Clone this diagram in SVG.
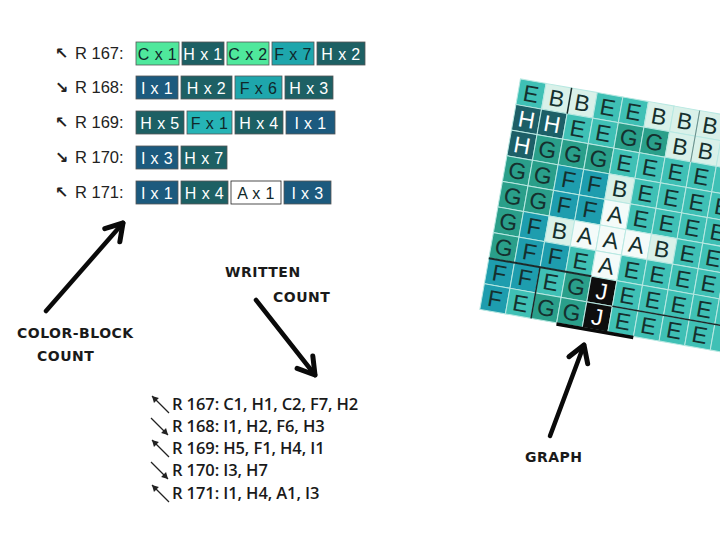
<svg xmlns="http://www.w3.org/2000/svg" width="720" height="540" viewBox="0 0 720 540">
<defs>
<style>
.lbl{font-family:"Liberation Sans",Arial,sans-serif;font-size:16.5px;fill:#222}
.arr{font-family:"DejaVu Sans",sans-serif;font-size:16px;fill:#222;font-weight:bold}
.bx{stroke:#555;stroke-width:0.8}
.bt{font-family:"Liberation Sans",Arial,sans-serif;font-size:16px;text-anchor:middle;letter-spacing:0.4px}
.C{fill:#4fe89c}.H{fill:#1d6064}.F{fill:#1ea6ac}.I{fill:#1c5a7e}.A{fill:#ffffff}
.w{fill:#ffffff}.d{fill:#10282a}
.comic{font-family:"DejaVu Sans",sans-serif;font-weight:bold;font-size:14px;fill:#1a1a1a;letter-spacing:0.5px}
.list{font-family:"Open Sans","Noto Sans",sans-serif;font-size:16.5px;fill:#1a1a1a;font-weight:600;letter-spacing:-0.1px}
.big{stroke:#0a0a0a;stroke-width:4.5;stroke-linecap:round;fill:none}
.sm{stroke:#222;stroke-width:1.2;fill:none}
.cE{fill:#3fc0b5}.cB{fill:#d9f1e9}.cH{fill:#1d5f67}.cG{fill:#2a9f8a}.cF{fill:#1e9dae}.cA{fill:#f4fbf9}.cJ{fill:#0e0e0e}
.cell{stroke:#b8e8e2;stroke-width:1}
.gt{font-family:"Liberation Sans",Arial,sans-serif;font-size:23px;text-anchor:middle;fill:#15302e}
.gw{fill:#ffffff}
</style>
<marker id="bigHead" markerUnits="userSpaceOnUse" markerWidth="30" markerHeight="30" viewBox="-16 -12 20 24" refX="0" refY="0" orient="auto">
<path d="M-13,-8 L0,0 L-13,8" fill="none" stroke="#0a0a0a" stroke-width="4" stroke-linecap="round" stroke-linejoin="round"/>
</marker>
<marker id="smHead" markerUnits="userSpaceOnUse" markerWidth="10" markerHeight="10" viewBox="-6 -4 8 8" refX="0" refY="0" orient="auto">
<path d="M-5,-2.8 L0,0 L-5,2.8 Z" fill="#222"/>
</marker>
</defs>
<rect width="720" height="540" fill="#ffffff"/>

<g id="block-rows">
<g id="row-167">
<text class="arr" x="55" y="59">↖</text><text class="lbl" x="75" y="59">R 167:</text>
<rect class="bx C" x="136" y="42" width="43" height="23"/><text class="bt d" x="157.5" y="59.5">C x 1</text>
<rect class="bx H" x="182" y="42" width="42" height="23"/><text class="bt w" x="203" y="59.5">H x 1</text>
<rect class="bx C" x="227" y="42" width="42" height="23"/><text class="bt d" x="248" y="59.5">C x 2</text>
<rect class="bx F" x="272" y="42" width="42" height="23"/><text class="bt d" x="293" y="59.5">F x 7</text>
<rect class="bx H" x="317" y="42" width="48" height="23"/><text class="bt w" x="341" y="59.5">H x 2</text>
</g>
<g id="row-168">
<text class="arr" x="55" y="93">↘</text><text class="lbl" x="75" y="93">R 168:</text>
<rect class="bx I" x="136" y="76" width="42" height="23"/><text class="bt w" x="157" y="93.5">I x 1</text>
<rect class="bx H" x="181" y="76" width="51" height="23"/><text class="bt w" x="206.5" y="93.5">H x 2</text>
<rect class="bx F" x="235" y="76" width="47" height="23"/><text class="bt d" x="258.5" y="93.5">F x 6</text>
<rect class="bx H" x="285" y="76" width="48" height="23"/><text class="bt w" x="309" y="93.5">H x 3</text>
</g>
<g id="row-169">
<text class="arr" x="55" y="128">↖</text><text class="lbl" x="75" y="128">R 169:</text>
<rect class="bx H" x="136" y="111" width="48" height="23"/><text class="bt w" x="160" y="128.5">H x 5</text>
<rect class="bx F" x="187" y="111" width="45" height="23" style="fill:#26b4b6"/><text class="bt d" x="209.5" y="128.5">F x 1</text>
<rect class="bx H" x="235" y="111" width="48" height="23"/><text class="bt w" x="259" y="128.5">H x 4</text>
<rect class="bx I" x="286" y="111" width="49" height="23"/><text class="bt w" x="310.5" y="128.5">I x 1</text>
</g>
<g id="row-170">
<text class="arr" x="55" y="163">↘</text><text class="lbl" x="75" y="163">R 170:</text>
<rect class="bx I" x="136" y="146" width="42" height="23"/><text class="bt w" x="157" y="163.5">I x 3</text>
<rect class="bx H" x="181" y="146" width="46" height="23"/><text class="bt w" x="204" y="163.5">H x 7</text>
</g>
<g id="row-171">
<text class="arr" x="55" y="198">↖</text><text class="lbl" x="75" y="198">R 171:</text>
<rect class="bx I" x="136" y="181" width="42" height="23"/><text class="bt w" x="157" y="198.5">I x 1</text>
<rect class="bx H" x="181" y="181" width="47" height="23"/><text class="bt w" x="204.5" y="198.5">H x 4</text>
<rect class="bx A" x="231" y="181" width="50" height="23" style="stroke:#222"/><text class="bt d" x="256" y="198.5">A x 1</text>
<rect class="bx I" x="284" y="181" width="47" height="23"/><text class="bt w" x="307.5" y="198.5">I x 3</text>
</g>
</g>

<g id="label-color-block">
<text class="comic" x="17" y="338">COLOR-BLOCK</text>
<text class="comic" x="37" y="361">COUNT</text>
</g>
<g id="label-written">
<text class="comic" x="225" y="277">WRITTEN</text>
<text class="comic" x="273" y="302">COUNT</text>
</g>
<g id="label-graph">
<text class="comic" x="525" y="462">GRAPH</text>
</g>

<g id="connectors">
<line class="big" x1="46" y1="311" x2="123" y2="223" marker-end="url(#bigHead)"/>
<line class="big" x1="256" y1="300" x2="315" y2="375" marker-end="url(#bigHead)"/>
<line class="big" x1="550" y1="436" x2="584" y2="345" marker-end="url(#bigHead)"/>
</g>

<g id="written-list">
<line class="sm" x1="169" y1="413" x2="152" y2="396" marker-end="url(#smHead)"/>
<text class="list" x="172" y="410">R 167: C1, H1, C2, F7, H2</text>
<line class="sm" x1="151" y1="418" x2="168" y2="435" marker-end="url(#smHead)"/>
<text class="list" x="172" y="432">R 168: I1, H2, F6, H3</text>
<line class="sm" x1="169" y1="457" x2="152" y2="440" marker-end="url(#smHead)"/>
<text class="list" x="172" y="454">R 169: H5, F1, H4, I1</text>
<line class="sm" x1="151" y1="462" x2="168" y2="479" marker-end="url(#smHead)"/>
<text class="list" x="172" y="476">R 170: I3, H7</text>
<line class="sm" x1="169" y1="502" x2="152" y2="485" marker-end="url(#smHead)"/>
<text class="list" x="172" y="499">R 171: I1, H4, A1, I3</text>
</g>

<g id="graph" transform="translate(531,94) rotate(10)">
<g id="graph-cells">
<rect class="cell cE" x="-13" y="-13" width="26" height="26"/><rect class="cell cB" x="13" y="-13" width="26" height="26"/><rect class="cell cB" x="39" y="-13" width="26" height="26"/><rect class="cell cE" x="65" y="-13" width="26" height="26"/><rect class="cell cE" x="91" y="-13" width="26" height="26"/><rect class="cell cB" x="117" y="-13" width="26" height="26"/><rect class="cell cB" x="143" y="-13" width="26" height="26"/><rect class="cell cB" x="169" y="-13" width="26" height="26"/><rect class="cell cB" x="195" y="-13" width="26" height="26"/><rect class="cell cB" x="221" y="-13" width="26" height="26"/>
<rect class="cell cH" x="-13" y="13" width="26" height="26"/><rect class="cell cH" x="13" y="13" width="26" height="26"/><rect class="cell cE" x="39" y="13" width="26" height="26"/><rect class="cell cE" x="65" y="13" width="26" height="26"/><rect class="cell cG" x="91" y="13" width="26" height="26"/><rect class="cell cG" x="117" y="13" width="26" height="26"/><rect class="cell cB" x="143" y="13" width="26" height="26"/><rect class="cell cB" x="169" y="13" width="26" height="26"/><rect class="cell cB" x="195" y="13" width="26" height="26"/><rect class="cell cB" x="221" y="13" width="26" height="26"/>
<rect class="cell cH" x="-13" y="39" width="26" height="26"/><rect class="cell cG" x="13" y="39" width="26" height="26"/><rect class="cell cG" x="39" y="39" width="26" height="26"/><rect class="cell cG" x="65" y="39" width="26" height="26"/><rect class="cell cE" x="91" y="39" width="26" height="26"/><rect class="cell cE" x="117" y="39" width="26" height="26"/><rect class="cell cE" x="143" y="39" width="26" height="26"/><rect class="cell cE" x="169" y="39" width="26" height="26"/><rect class="cell cE" x="195" y="39" width="26" height="26"/><rect class="cell cE" x="221" y="39" width="26" height="26"/>
<rect class="cell cG" x="-13" y="65" width="26" height="26"/><rect class="cell cG" x="13" y="65" width="26" height="26"/><rect class="cell cF" x="39" y="65" width="26" height="26"/><rect class="cell cF" x="65" y="65" width="26" height="26"/><rect class="cell cB" x="91" y="65" width="26" height="26"/><rect class="cell cE" x="117" y="65" width="26" height="26"/><rect class="cell cE" x="143" y="65" width="26" height="26"/><rect class="cell cE" x="169" y="65" width="26" height="26"/><rect class="cell cE" x="195" y="65" width="26" height="26"/><rect class="cell cE" x="221" y="65" width="26" height="26"/>
<rect class="cell cG" x="-13" y="91" width="26" height="26"/><rect class="cell cG" x="13" y="91" width="26" height="26"/><rect class="cell cF" x="39" y="91" width="26" height="26"/><rect class="cell cF" x="65" y="91" width="26" height="26"/><rect class="cell cA" x="91" y="91" width="26" height="26"/><rect class="cell cE" x="117" y="91" width="26" height="26"/><rect class="cell cE" x="143" y="91" width="26" height="26"/><rect class="cell cE" x="169" y="91" width="26" height="26"/><rect class="cell cE" x="195" y="91" width="26" height="26"/><rect class="cell cE" x="221" y="91" width="26" height="26"/>
<rect class="cell cG" x="-13" y="117" width="26" height="26"/><rect class="cell cF" x="13" y="117" width="26" height="26"/><rect class="cell cB" x="39" y="117" width="26" height="26"/><rect class="cell cA" x="65" y="117" width="26" height="26"/><rect class="cell cA" x="91" y="117" width="26" height="26"/><rect class="cell cA" x="117" y="117" width="26" height="26"/><rect class="cell cB" x="143" y="117" width="26" height="26"/><rect class="cell cE" x="169" y="117" width="26" height="26"/><rect class="cell cE" x="195" y="117" width="26" height="26"/><rect class="cell cE" x="221" y="117" width="26" height="26"/>
<rect class="cell cG" x="-13" y="143" width="26" height="26"/><rect class="cell cF" x="13" y="143" width="26" height="26"/><rect class="cell cF" x="39" y="143" width="26" height="26"/><rect class="cell cE" x="65" y="143" width="26" height="26"/><rect class="cell cA" x="91" y="143" width="26" height="26"/><rect class="cell cE" x="117" y="143" width="26" height="26"/><rect class="cell cE" x="143" y="143" width="26" height="26"/><rect class="cell cE" x="169" y="143" width="26" height="26"/><rect class="cell cE" x="195" y="143" width="26" height="26"/><rect class="cell cE" x="221" y="143" width="26" height="26"/>
<rect class="cell cF" x="-13" y="169" width="26" height="26"/><rect class="cell cF" x="13" y="169" width="26" height="26"/><rect class="cell cE" x="39" y="169" width="26" height="26"/><rect class="cell cG" x="65" y="169" width="26" height="26"/><rect class="cell cJ" x="91" y="169" width="26" height="26"/><rect class="cell cE" x="117" y="169" width="26" height="26"/><rect class="cell cE" x="143" y="169" width="26" height="26"/><rect class="cell cE" x="169" y="169" width="26" height="26"/><rect class="cell cE" x="195" y="169" width="26" height="26"/><rect class="cell cE" x="221" y="169" width="26" height="26"/>
<rect class="cell cF" x="-13" y="195" width="26" height="26"/><rect class="cell cE" x="13" y="195" width="26" height="26"/><rect class="cell cG" x="39" y="195" width="26" height="26"/><rect class="cell cG" x="65" y="195" width="26" height="26"/><rect class="cell cJ" x="91" y="195" width="26" height="26"/><rect class="cell cE" x="117" y="195" width="26" height="26"/><rect class="cell cE" x="143" y="195" width="26" height="26"/><rect class="cell cE" x="169" y="195" width="26" height="26"/><rect class="cell cE" x="195" y="195" width="26" height="26"/><rect class="cell cE" x="221" y="195" width="26" height="26"/>
</g>
<g id="graph-lines" fill="none" stroke="#1a2a2a">
<line x1="39" y1="-13" x2="39" y2="13" stroke-width="1.5"/>
<line x1="169" y1="-13" x2="169" y2="39" stroke-width="1" stroke="#6a8a86"/>
<line x1="-13" y1="169" x2="91" y2="169" stroke-width="2"/>
<line x1="39" y1="169" x2="39" y2="221" stroke-width="1.5"/>
<line x1="117" y1="195" x2="260" y2="195" stroke-width="1.5"/>
<line x1="65" y1="222" x2="143" y2="222" stroke-width="3.5" stroke="#0a0a0a"/>
</g>
<g id="graph-letters">
<text x="0" y="8" class="gt">E</text><text x="26" y="8" class="gt">B</text><text x="52" y="8" class="gt">B</text><text x="78" y="8" class="gt">E</text><text x="104" y="8" class="gt">E</text><text x="130" y="8" class="gt">B</text><text x="156" y="8" class="gt">B</text><text x="182" y="8" class="gt">B</text>
<text x="0" y="34" class="gt gw">H</text><text x="26" y="34" class="gt gw">H</text><text x="52" y="34" class="gt">E</text><text x="78" y="34" class="gt">E</text><text x="104" y="34" class="gt">G</text><text x="130" y="34" class="gt">G</text><text x="156" y="34" class="gt">B</text><text x="182" y="34" class="gt">B</text>
<text x="0" y="60" class="gt gw">H</text><text x="26" y="60" class="gt">G</text><text x="52" y="60" class="gt">G</text><text x="78" y="60" class="gt">G</text><text x="104" y="60" class="gt">E</text><text x="130" y="60" class="gt">E</text><text x="156" y="60" class="gt">E</text><text x="182" y="60" class="gt">E</text>
<text x="0" y="86" class="gt">G</text><text x="26" y="86" class="gt">G</text><text x="52" y="86" class="gt">F</text><text x="78" y="86" class="gt">F</text><text x="104" y="86" class="gt">B</text><text x="130" y="86" class="gt">E</text><text x="156" y="86" class="gt">E</text><text x="182" y="86" class="gt">E</text><text x="208" y="86" class="gt">E</text>
<text x="0" y="112" class="gt">G</text><text x="26" y="112" class="gt">G</text><text x="52" y="112" class="gt">F</text><text x="78" y="112" class="gt">F</text><text x="104" y="112" class="gt">A</text><text x="130" y="112" class="gt">E</text><text x="156" y="112" class="gt">E</text><text x="182" y="112" class="gt">E</text><text x="208" y="112" class="gt">E</text>
<text x="0" y="138" class="gt">G</text><text x="26" y="138" class="gt">F</text><text x="52" y="138" class="gt">B</text><text x="78" y="138" class="gt">A</text><text x="104" y="138" class="gt">A</text><text x="130" y="138" class="gt">A</text><text x="156" y="138" class="gt">B</text><text x="182" y="138" class="gt">E</text><text x="208" y="138" class="gt">E</text>
<text x="0" y="164" class="gt">G</text><text x="26" y="164" class="gt">F</text><text x="52" y="164" class="gt">F</text><text x="78" y="164" class="gt">E</text><text x="104" y="164" class="gt">A</text><text x="130" y="164" class="gt">E</text><text x="156" y="164" class="gt">E</text><text x="182" y="164" class="gt">E</text><text x="208" y="164" class="gt">E</text>
<text x="0" y="190" class="gt">F</text><text x="26" y="190" class="gt">F</text><text x="52" y="190" class="gt">E</text><text x="78" y="190" class="gt">G</text><text x="104" y="190" class="gt gw">J</text><text x="130" y="190" class="gt">E</text><text x="156" y="190" class="gt">E</text><text x="182" y="190" class="gt">E</text><text x="208" y="190" class="gt">E</text>
<text x="0" y="216" class="gt">F</text><text x="26" y="216" class="gt">E</text><text x="52" y="216" class="gt">G</text><text x="78" y="216" class="gt">G</text><text x="104" y="216" class="gt gw">J</text><text x="130" y="216" class="gt">E</text><text x="156" y="216" class="gt">E</text><text x="182" y="216" class="gt">E</text><text x="208" y="216" class="gt">E</text>
</g>
</g>
</svg>
